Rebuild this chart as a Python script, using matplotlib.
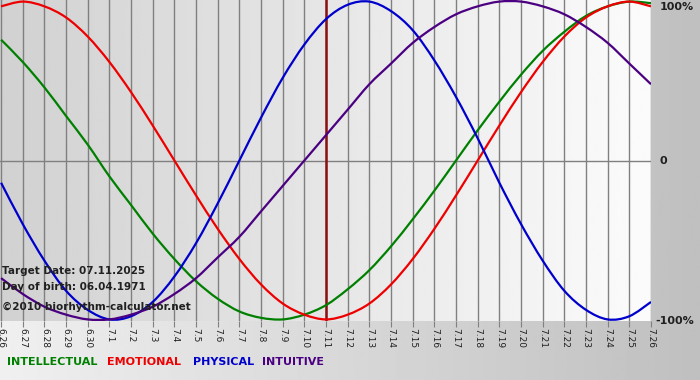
import numpy as np
import matplotlib
matplotlib.use('Agg')
import matplotlib.pyplot as plt
from matplotlib.path import Path
from matplotlib.patches import PathPatch

# days shown on the x axis (month.day)
days = ['6.26', '6.27', '6.28', '6.29', '6.30', '7.1', '7.2', '7.3', '7.4', '7.5',
        '7.6', '7.7', '7.8', '7.9', '7.10', '7.11', '7.12', '7.13', '7.14', '7.15',
        '7.16', '7.17', '7.18', '7.19', '7.20', '7.21', '7.22', '7.23', '7.24',
        '7.25', '7.26']
target_day = '7.11'

# percent values, one per day
intellectual = [76, 62, 46, 28, 10, -10, -28, -46, -62, -76, -87, -95, -99, -100, -97,
                -91, -81, -69, -54, -37, -19, 0, 19, 37, 54, 69, 81, 91, 97, 100, 99]
emotional = [97, 100, 97, 90, 78, 62, 43, 22, 0, -22, -43, -62, -78, -90, -97,
             -100, -97, -90, -78, -62, -43, -22, 0, 22, 43, 62, 78, 90, 97, 100, 97]
physical = [-14, -40, -63, -82, -94, -100, -98, -89, -73, -52, -27, 0, 27, 52, 73,
            89, 98, 100, 94, 82, 63, 40, 14, -14, -40, -63, -82, -94, -100, -98, -89]
intuitive = [-74, -84, -92, -97, -100, -100, -97, -92, -84, -74, -61, -48, -32, -16, 0,
             16, 32, 48, 61, 74, 84, 92, 97, 100, 100, 97, 92, 84, 74, 61, 48]

series_names = ['INTELLECTUAL', 'EMOTIONAL', 'PHYSICAL', 'INTUITIVE']
series_colors = ['#008000', '#ee0000', '#0000cc', '#4b0082']


def smooth_path(xs, ys):
    # curve through the day points, drawn as bezier segments
    pts = np.column_stack([xs, ys]).astype(float)
    ext = np.vstack([pts[0], pts, pts[-1]])
    verts = [pts[0]]
    codes = [Path.MOVETO]
    for i in range(len(pts) - 1):
        p0, p1, p2, p3 = ext[i], ext[i + 1], ext[i + 2], ext[i + 3]
        verts += [p1 + (p2 - p0) / 6, p2 - (p3 - p1) / 6, p2]
        codes += [Path.CURVE4] * 3
    return Path(verts, codes)


W, H = 700, 380
fig = plt.figure(figsize=(W / 100, H / 100), dpi=100)

# figure background gradient
bg = fig.add_axes([0, 0, 1, 1], zorder=-10)
grad = np.linspace(0.94, 0.75, 256).reshape(1, -1)
bg.imshow(grad, cmap='gray', vmin=0, vmax=1, aspect='auto', extent=[0, 1, 0, 1])
bg.set_axis_off()

ax = fig.add_axes([0, 1 - 321 / H, 651 / W, 321 / H])
x = np.arange(len(days))

# plot area gradient, dark on the left
pgrad = np.linspace(0.82, 0.985, 256).reshape(1, -1)
ax.imshow(pgrad, cmap='gray', vmin=0, vmax=1, aspect='auto',
          extent=[-0.05, 30, -101, 101], zorder=0)

for xi in x:
    ax.axvline(xi, color='#808080', lw=1, zorder=1)
ax.axhline(0, color='#808080', lw=1, zorder=1)

for vals, c in zip([intellectual, emotional, physical, intuitive], series_colors):
    ax.add_patch(PathPatch(smooth_path(x, vals), facecolor='none', edgecolor=c,
                           lw=1.6, zorder=3))

ax.axvline(days.index(target_day), color='#8b1010', lw=1.8, zorder=2)

ax.set_xlim(-0.05, 30)
ax.set_ylim(-101, 101)
ax.set_xticks(x)
ax.set_xticklabels(days, rotation=270, fontsize=6.5, color='#202020')
ax.tick_params(axis='x', length=4, color='#808080', pad=1)
ax.set_yticks([])
for s in ax.spines.values():
    s.set_visible(False)

ytr = ax.get_yaxis_transform()
ax.text(1.013, 100, '100%', transform=ytr, ha='left', va='top',
        fontsize=8, fontweight='bold', color='#202020')
ax.text(1.013, 0, '0', transform=ytr, ha='left', va='center',
        fontsize=8, fontweight='bold', color='#202020')
ax.text(1.006, -101, '-100%', transform=ytr, ha='left', va='center',
        fontsize=8, fontweight='bold', color='#202020')

# info text over the plot
info = ['Target Date: 07.11.2025', 'Day of birth: 06.04.1971', '\u00a92010 biorhythm-calculator.net']
info_y = [271, 287, 307]
for t, yy in zip(info, info_y):
    fig.text(2 / W, 1 - yy / H, t, ha='left', va='center', fontsize=7.5,
             fontweight='bold', color='#202020', zorder=5)

# legend row
leg_x = [7, 107, 193, 262]
for name, c, lx in zip(series_names, series_colors, leg_x):
    fig.text(lx / W, 1 - 362 / H, name, ha='left', va='center', fontsize=8,
             fontweight='bold', color=c)

fig.savefig('out.png', dpi=100)
